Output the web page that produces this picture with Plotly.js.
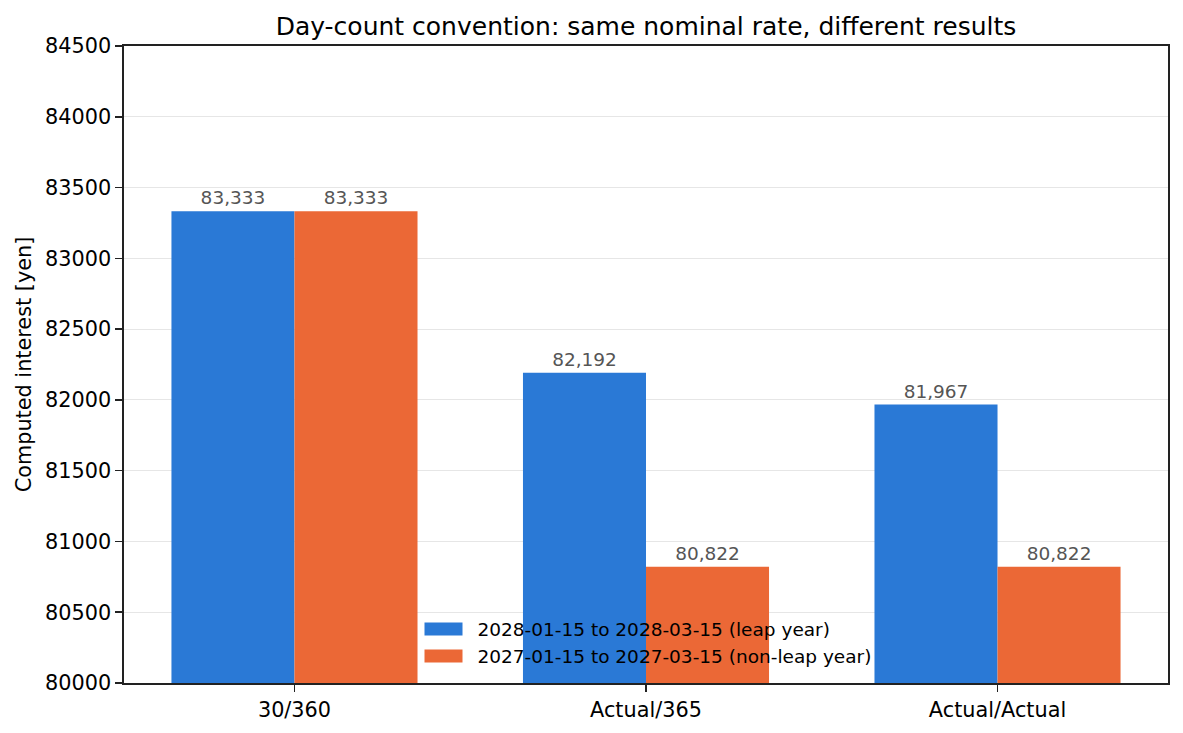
<!DOCTYPE html>
<html>
<head>
<meta charset="utf-8">
<script src="https://cdn.plot.ly/plotly-3.0.1.min.js"></script>
<style>html,body{margin:0;padding:0;background:#fff;}#chart{width:1183px;height:733px;}</style>
</head>
<body>
<div id="chart"></div>
<script>
const conventions = ["30/360", "Actual/365", "Actual/Actual"];
const leapLabel = "2028-01-15 to 2028-03-15 (leap year)";
const nonLeapLabel = "2027-01-15 to 2027-03-15 (non-leap year)";
const leapValues = [83333.33, 82191.78, 81967.21];
const nonLeapValues = [83333.33, 80821.92, 80821.92];
const yTicks = [80000, 80500, 81000, 81500, 82000, 82500, 83000, 83500, 84000, 84500];

const font = "DejaVu Sans, Verdana, sans-serif";
const labelFont = {family: font, size: 18.5, color: "#555555"};

const traces = [
  {
    type: "bar", name: leapLabel, x: conventions, y: leapValues,
    marker: {color: "#2a79d6", line: {width: 0}},
    texttemplate: "%{y:,.0f}", textposition: "outside", textfont: labelFont,
    cliponaxis: false, hoverinfo: "skip"
  },
  {
    type: "bar", name: nonLeapLabel, x: conventions, y: nonLeapValues,
    marker: {color: "#eb6836", line: {width: 0}},
    texttemplate: "%{y:,.0f}", textposition: "outside", textfont: labelFont,
    cliponaxis: false, hoverinfo: "skip"
  }
];

const layout = {
  width: 1183, height: 733,
  margin: {l: 124, r: 15, t: 46, b: 50, pad: 0},
  paper_bgcolor: "#ffffff", plot_bgcolor: "#ffffff",
  font: {family: font, size: 20.8, color: "#000000"},
  title: {text: "Day-count convention: same nominal rate, different results",
          font: {family: font, size: 25, color: "#000000"},
          x: 0.5, xref: "paper", xanchor: "center", y: 1, yref: "paper", yanchor: "bottom", pad: {b: 11}},
  barmode: "group", bargap: 0.3, bargroupgap: 0,
  showlegend: true,
  legend: {x: 0.5, xanchor: "center", y: 0.012, yanchor: "bottom", bgcolor: "rgba(0,0,0,0)",
           itemwidth: 52,
           font: {family: font, size: 18.5, color: "#000000"}, borderwidth: 0, tracegroupgap: 0},
  xaxis: {
    type: "category", range: [-0.485, 2.485],
    showline: true, linecolor: "#222222", linewidth: 1.6, mirror: true,
    ticks: "outside", ticklen: 7, tickwidth: 1.6, tickcolor: "#222222",
    showgrid: false, zeroline: false,
    tickfont: {family: font, size: 20.8, color: "#000000"}
  },
  yaxis: {
    range: [80000, 84500], tickvals: yTicks, ticktext: yTicks.map(v => String(v)),
    showline: true, linecolor: "#222222", linewidth: 1.6, mirror: true,
    ticks: "outside", ticklen: 7, tickwidth: 1.6, tickcolor: "#222222",
    showgrid: true, gridcolor: "#e6e6e6", gridwidth: 1.2, zeroline: false,
    tickfont: {family: font, size: 20.8, color: "#000000"},
    title: {text: "Computed interest [yen]", font: {family: font, size: 20.8, color: "#000000"}, standoff: 8}
  }
};

Plotly.newPlot("chart", traces, layout, {displayModeBar: false, staticPlot: true}).then(function (gd) {
  // widen legend swatches to matplotlib-style rectangles
  gd.querySelectorAll(".legend .legendpoints path").forEach(function (p) {
    p.setAttribute("d", "M-22,6.5H16V-6.5H-22Z");
  });
});
</script>
</body>
</html>
